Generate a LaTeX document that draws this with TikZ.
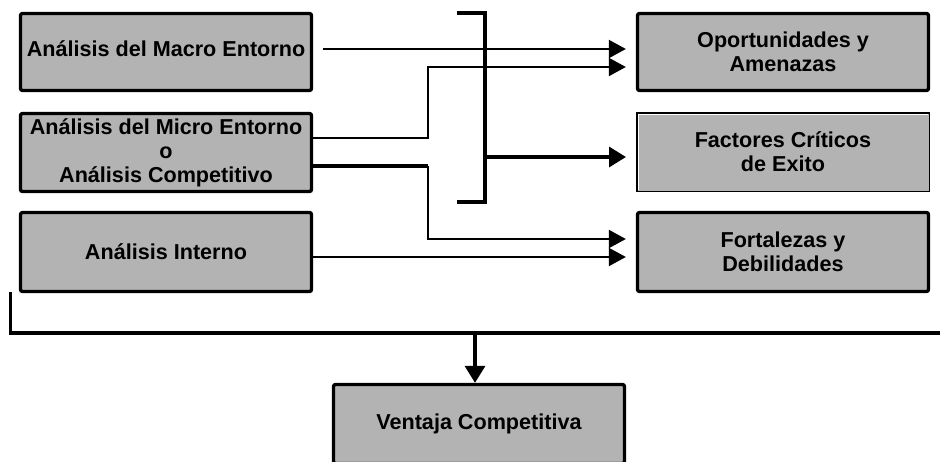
\documentclass[tikz,border=0pt]{standalone}
\usepackage{fontspec}
\setmainfont{Liberation Sans}
\usetikzlibrary{arrows.meta,calc}
\definecolor{boxgray}{RGB}{179,179,179}
\begin{document}
\begin{tikzpicture}[x=1pt,y=-1pt,
  box/.style={draw=black, fill=boxgray, line width=3.3pt, rounded corners=2pt,
    minimum width=291pt, minimum height=77pt, inner sep=0pt, align=center,
    font=\fontsize{21.6}{24}\selectfont\bfseries},
  flatbox/.style={box, line width=1.5pt, rounded corners=0pt, minimum width=292.5pt},
  link/.style={line width=2pt, -{Triangle[length=17pt,width=18pt]}},
  heavylink/.style={line width=3.3pt, -{Triangle[length=17pt,width=20pt]}},
  heavyline/.style={line width=3.3pt},
  thinline/.style={line width=2pt}]
\useasboundingbox (0,0) rectangle (940,461);

% analysis boxes (left column)
\node[box, text depth=6pt] (macro) at (166,52) {Análisis del Macro Entorno};
\node[box, minimum height=78pt] (micro) at (166,152.5)
  {Análisis del Micro Entorno\\o\\Análisis Competitivo};
\node[box, minimum height=79pt] (interno) at (166,252) {Análisis Interno};

% results (right column)
\node[box] (opam) at (783,52) {Oportunidades y\\Amenazas};
\node[flatbox, minimum height=78.5pt] (fce) at (783,152) {Factores Críticos\\de Exito};
\draw[white, line width=1pt] ($(fce.south west)+(2.3,-2.3)$) |- ($(fce.north east)+(-2.3,2.3)$);
\node[box, minimum height=79pt] (fode) at (783,252) {Fortalezas y\\Debilidades};

% final outcome
\node[box, minimum height=79pt] (vent) at (479,424) {Ventaja Competitiva};

% bend points, bracket and bus
\coordinate (split) at (428,100);
\coordinate (brtop) at (457,13);
\coordinate (brbot) at (457,202);
\coordinate (brspine) at (485,100);
\coordinate (brmid) at (485,157);
\coordinate (busL) at (10.5,292);
\coordinate (busR) at (940,333);

% macro environment -> opportunities and threats
\draw[link] ($(macro.east)+(10,-3)$) -- ($(opam.west)+(-10,-3)$);
% micro environment -> opportunities and threats
\coordinate (oaIn) at ($(opam.west)+(-10,15)$);
\draw[link] ($(micro.east)+(0,-14.5)$) -| (split |- oaIn) -- (oaIn);
% micro environment -> strengths and weaknesses
\coordinate (fdIn) at ($(fode.west)+(-10,-13)$);
\coordinate (microLow) at ($(micro.east)+(0,13.5)$);
\draw[heavyline] (microLow) -- (split |- microLow);
\draw[link] (split |- microLow) |- (fdIn);
% internal analysis -> strengths and weaknesses
\draw[link] ($(interno.east)+(0,5)$) -- ($(fode.west)+(-10,5)$);

% bracket gathering into key success factors
\draw[heavyline] (brtop) -| (brspine) |- (brbot);
\coordinate (fceIn) at ($(fce.west |- brmid)+(-10,0)$);
\draw[heavylink] (brmid) -- (fceIn);

% everything feeds the competitive advantage
\draw[heavyline] (busL) |- (busR);
\coordinate (ventIn) at ($(vent.north)+(-4,0)$);
\draw[heavylink] (ventIn |- busR) -- (ventIn);
\end{tikzpicture}
\end{document}
